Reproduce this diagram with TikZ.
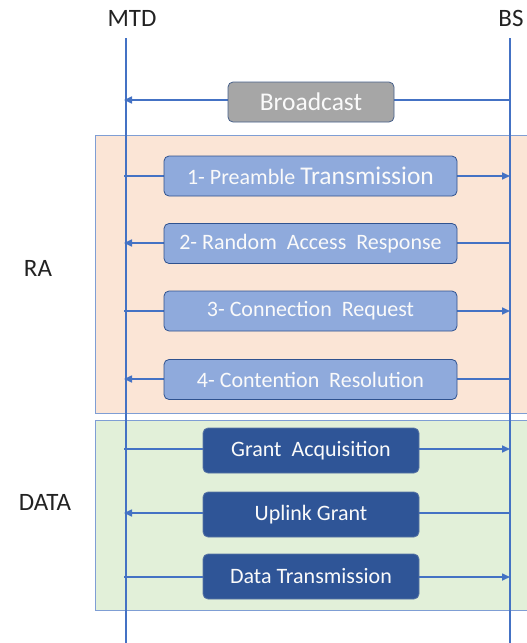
\documentclass[tikz,border=0pt]{standalone}
\usepackage{fontspec}
\setmainfont{Carlito}
\usetikzlibrary{arrows.meta}

\definecolor{lifeblue}{HTML}{4472C4}
\definecolor{edgeblue}{HTML}{2F528F}
\definecolor{raFill}{HTML}{FBE5D6}
\definecolor{dataFill}{HTML}{E2F0D9}
\definecolor{regionEdge}{HTML}{7F9ED4}
\definecolor{lightBox}{HTML}{8FAADC}
\definecolor{darkBox}{HTML}{2F5597}
\definecolor{grayBox}{HTML}{A6A6A6}
\definecolor{labelInk}{HTML}{222222}
\definecolor{boxInk}{HTML}{FAFAFA}

\tikzset{
  region/.style={draw=regionEdge, line width=1pt},
  lifeline/.style={draw=lifeblue, line width=1.6pt},
  msg/.style={draw=lifeblue, line width=1.6pt, -{Triangle[length=8pt,width=7pt]}},
  msgbox/.style={rounded corners=5pt, line width=0.8pt, draw=edgeblue,
    text=boxInk, inner sep=0pt, font=\fontsize{22}{25}\selectfont},
  stagebox/.style={msgbox, fill=lightBox, minimum width=293pt, minimum height=40pt},
  databox/.style={msgbox, fill=darkBox, draw=edgeblue!80!white, minimum width=216pt, minimum height=45pt},
  castbox/.style={msgbox, fill=grayBox, draw=edgeblue!70!gray, minimum width=166pt, minimum height=40pt,
    font=\fontsize{25.5}{29}\selectfont},
  actor/.style={text=labelInk, font=\fontsize{25}{29}\selectfont, inner sep=0pt}
}

\begin{document}
\begin{tikzpicture}[x=1pt, y=-1pt]
  \useasboundingbox (0,0) rectangle (527,643);
  \clip (0,0) rectangle (527,643);

  % phase regions
  \path[region, fill=raFill] (95,135) rectangle (535,413);
  \path[region, fill=dataFill] (95,420) rectangle (535,610);

  % actors and their lifelines
  \node[actor] (mtd) at (132,18) {MTD};
  \node[actor] (bs)  at (511,18) {BS};
  \coordinate (mtdTop) at (126,38);
  \coordinate (mtdBot) at (126,643);
  \coordinate (bsTop)  at (510,38);
  \coordinate (bsBot)  at (510,643);
  \draw[lifeline] (mtdTop) -- (mtdBot);
  \draw[lifeline] (bsTop) -- (bsBot);

  % phase labels
  \node[actor] (ra)   at (38,268) {RA};
  \node[actor] (data) at (45,502) {DATA};

  % message anchors on the lifelines
  \foreach \n/\y in {cast/100, s1/176, s2/243, s3/311, s4/379, d1/449, d2/513, d3/577} {
    \coordinate (m\n) at (124,\y);
    \coordinate (b\n) at (510,\y);
  }

  % messages (drawn first so the boxes sit on top)
  \draw[msg] (bcast) -- (mcast);
  \draw[msg] (ms1) -- (bs1);
  \draw[msg] (bs2) -- (ms2);
  \draw[msg] (ms3) -- (bs3);
  \draw[msg] (bs4) -- (ms4);
  \draw[msg] (md1) -- (bd1);
  \draw[msg] (bd2) -- (md2);
  \draw[msg] (md3) -- (bd3);

  % message boxes
  \node[castbox]  (broadcast) at (311,102)   {Broadcast};
  \node[stagebox] (pre)  at (310.5,176)   {1- Preamble {\fontsize{25.5}{28}\selectfont Transmission}};
  \node[stagebox] (rar)  at (310.5,243.5) {2- Random\ \ Access\ \ Response};
  \node[stagebox] (conn) at (310.5,311)   {3- Connection\ \ Request};
  \node[stagebox] (cont) at (310.5,379.5) {4- Contention\ \ Resolution};
  \node[databox]  (ga)   at (311,450.5)   {Grant\ \ Acquisition};
  \node[databox]  (ug)   at (311,514.5)   {Uplink Grant};
  \node[databox]  (dt)   at (311,576.5)   {Data Transmission};
\end{tikzpicture}
\end{document}
